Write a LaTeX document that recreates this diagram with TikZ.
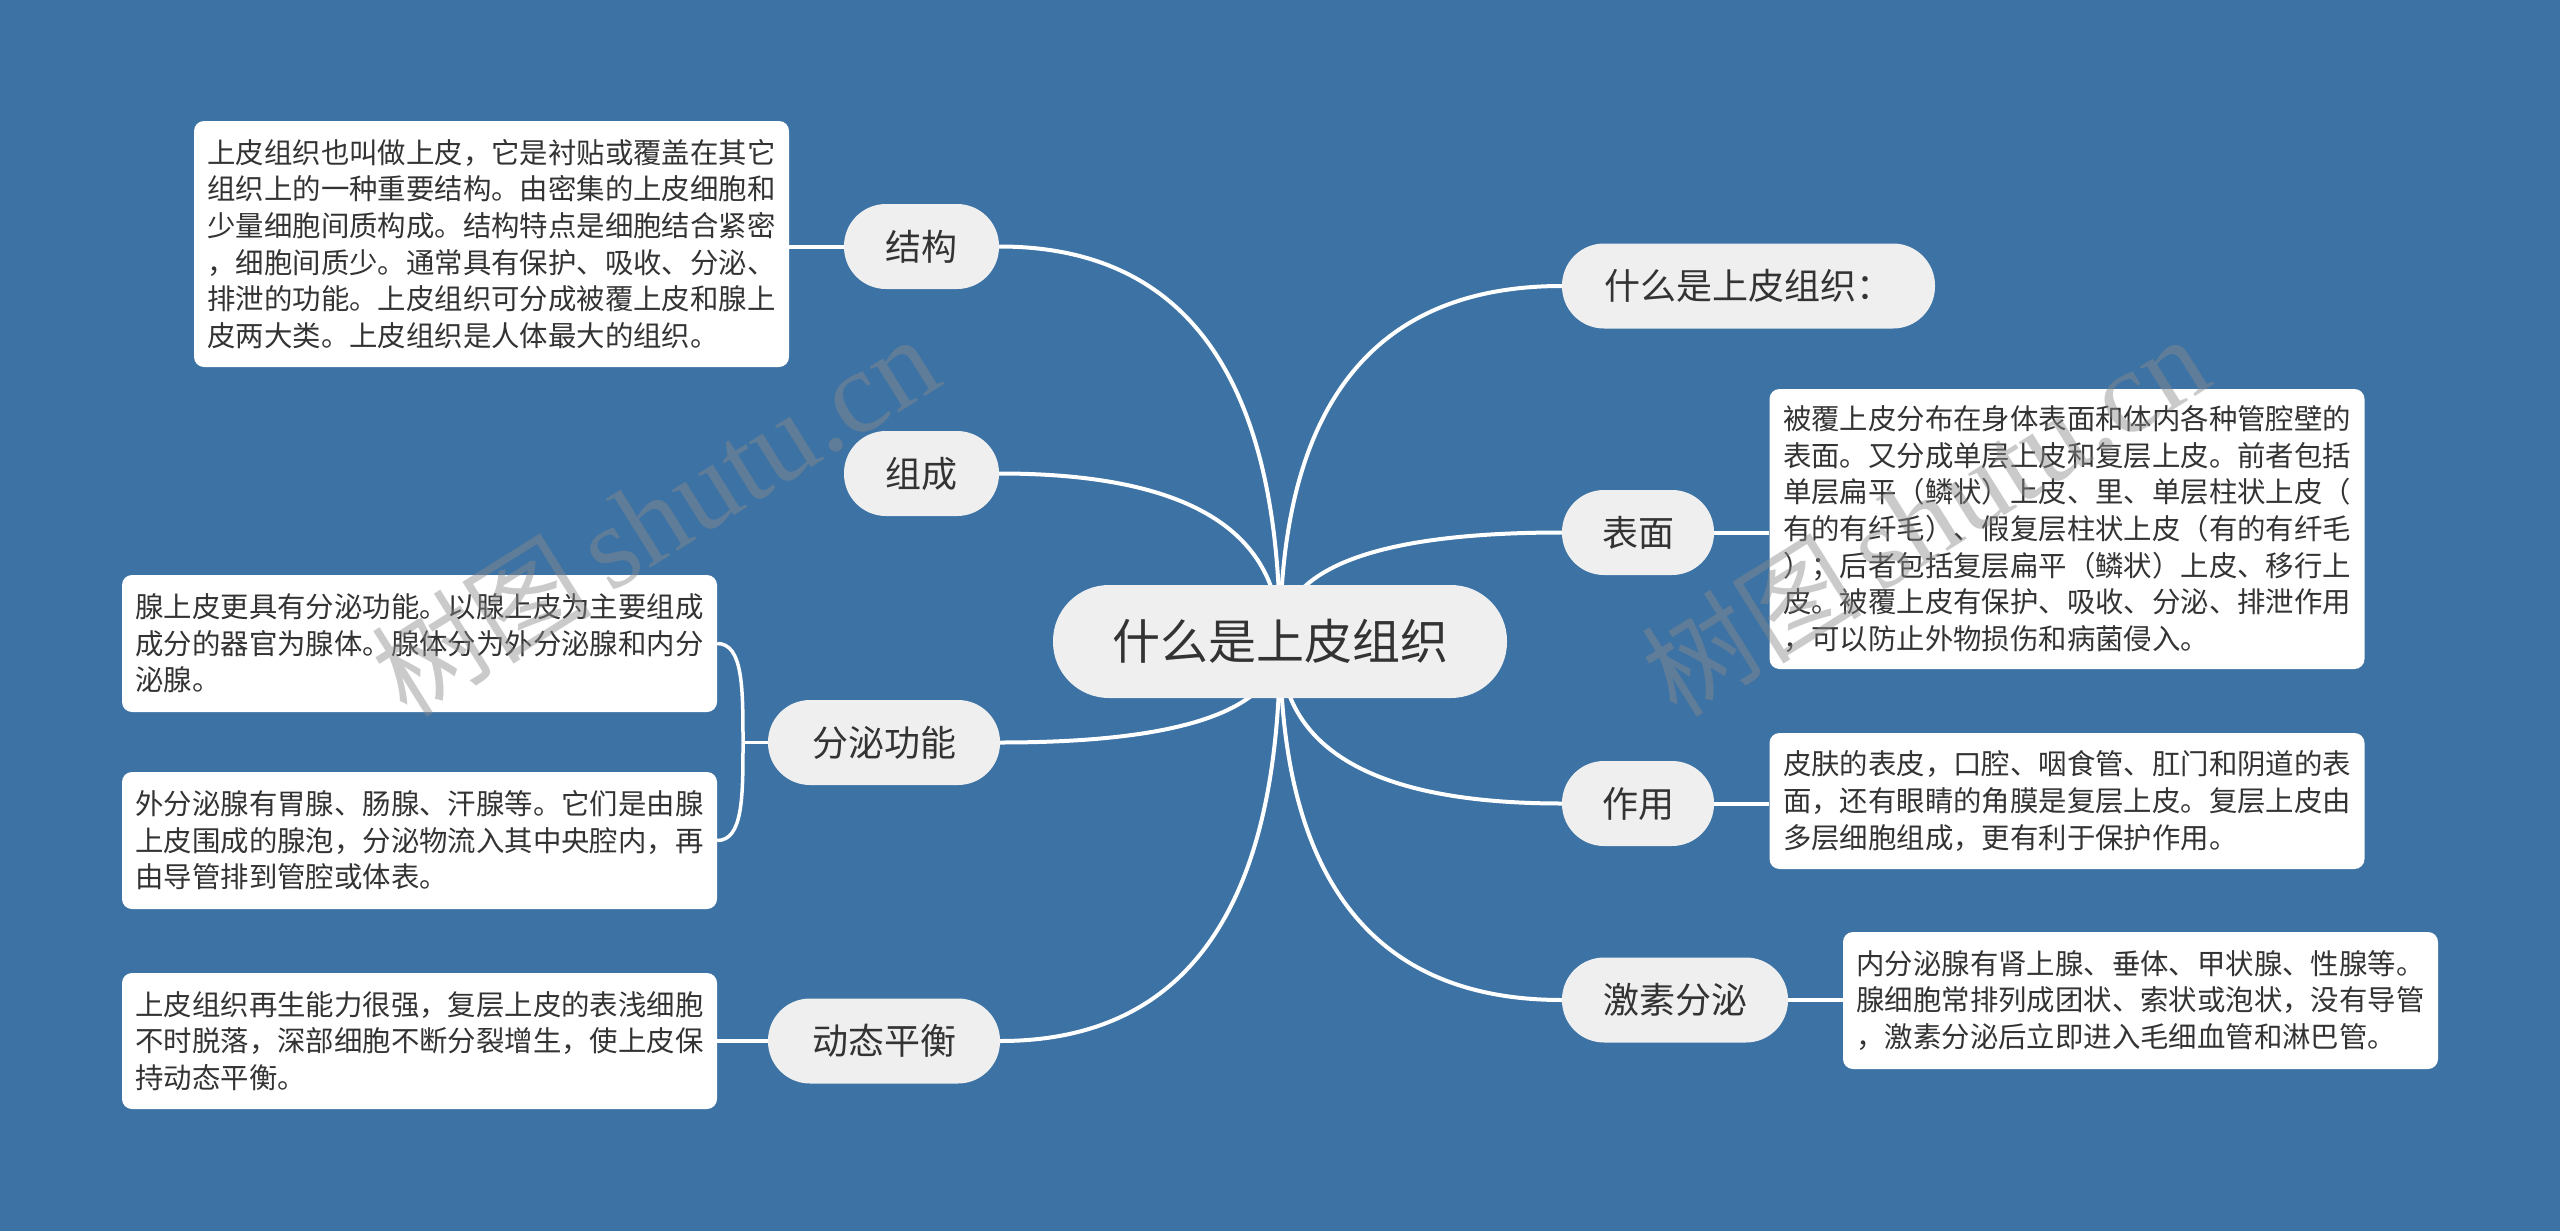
\documentclass[tikz,border=0pt]{standalone}
\usepackage{fontspec}
\newfontfamily\cjk{Noto Sans CJK SC}
\newfontfamily\wmfont{Liberation Serif}
\usetikzlibrary{calc}
\definecolor{bgblue}{HTML}{3C72A4}
\definecolor{nodefill}{HTML}{EFEFEF}
\definecolor{txt}{HTML}{333333}
\definecolor{wmgray}{HTML}{8A8A8A}
\pgfdeclarelayer{bglayer}
\pgfdeclarelayer{fglayer}
\pgfsetlayers{bglayer,main,fglayer}
\tikzset{
  pill/.style={rectangle, fill=nodefill, rounded corners=42pt, minimum height=85pt,
    inner sep=0pt, font=\cjk\fontsize{36}{43}\selectfont, text=txt},
  rootnode/.style={pill, rounded corners=56pt, minimum height=113pt,
    font=\cjk\fontsize{48}{58}\selectfont},
  infobox/.style={rectangle, fill=white, rounded corners=10pt, text width=568pt,
    inner xsep=13.5pt, inner ysep=0pt, align=left,
    font=\cjk\fontsize{28.4}{36.6}\selectfont, text=txt},
  conn/.style={draw=white, line width=4pt},
  thinconn/.style={draw=white, line width=3.5pt},
  watermark/.style={rotate=32, text=wmgray, text opacity=0.45, inner sep=0pt}
}
\begin{document}
\begin{tikzpicture}[x=1pt, y=-1pt]
\useasboundingbox (0,0) rectangle (2560,1231);
\begin{pgfonlayer}{bglayer}
\fill[bgblue] (0,0) rectangle (2560,1231);
\end{pgfonlayer}

% root
\node[rootnode, minimum width=454pt] (root) at (1280,641.5) {什么是上皮组织};

% left branches
\node[pill, minimum width=155pt] (jiegou) at (921.5,246.5) {结构};
\node[pill, minimum width=155pt] (zucheng) at (921.5,473.5) {组成};
\node[pill, minimum width=232pt] (fenmi) at (884,742.5) {分泌功能};
\node[pill, minimum width=232pt] (dongtai) at (884,1041) {动态平衡};

% right branches
\node[pill, minimum width=373pt] (what) at (1748.5,286) {什么是上皮组织：};
\node[pill, minimum width=152pt] (biaomian) at (1638,532.5) {表面};
\node[pill, minimum width=152pt] (zuoyong) at (1638,803.5) {作用};
\node[pill, minimum width=226pt] (jisu) at (1675,1000) {激素分泌};

% info boxes
\node[infobox, minimum height=246pt] (bjiegou) at (491.5,244) {%
上皮组织也叫做上皮，它是衬贴或覆盖在其它\\
组织上的一种重要结构。由密集的上皮细胞和\\
少量细胞间质构成。结构特点是细胞结合紧密\\
，细胞间质少。通常具有保护、吸收、分泌、\\
排泄的功能。上皮组织可分成被覆上皮和腺上\\
皮两大类。上皮组织是人体最大的组织。};

\node[infobox, minimum height=137pt] (bfen1) at (419.5,643.5) {%
腺上皮更具有分泌功能。以腺上皮为主要组成\\
成分的器官为腺体。腺体分为外分泌腺和内分\\
泌腺。};

\node[infobox, minimum height=137pt] (bfen2) at (419.5,840.5) {%
外分泌腺有胃腺、肠腺、汗腺等。它们是由腺\\
上皮围成的腺泡，分泌物流入其中央腔内，再\\
由导管排到管腔或体表。};

\node[infobox, minimum height=136pt] (bdong) at (419.5,1041) {%
上皮组织再生能力很强，复层上皮的表浅细胞\\
不时脱落，深部细胞不断分裂增生，使上皮保\\
持动态平衡。};

\node[infobox, minimum height=280pt] (bbiao) at (2067,529) {%
被覆上皮分布在身体表面和体内各种管腔壁的\\
表面。又分成单层上皮和复层上皮。前者包括\\
单层扁平（鳞状）上皮、里、单层柱状上皮（\\
有的有纤毛）、假复层柱状上皮（有的有纤毛\\
）；后者包括复层扁平（鳞状）上皮、移行上\\
皮。被覆上皮有保护、吸收、分泌、排泄作用\\
，可以防止外物损伤和病菌侵入。};

\node[infobox, minimum height=136pt] (bzuo) at (2067,801) {%
皮肤的表皮，口腔、咽食管、肛门和阴道的表\\
面，还有眼睛的角膜是复层上皮。复层上皮由\\
多层细胞组成，更有利于保护作用。};

\node[infobox, minimum height=137pt] (bjisu) at (2140.5,1000.5) {%
内分泌腺有肾上腺、垂体、甲状腺、性腺等。\\
腺细胞常排列成团状、索状或泡状，没有导管\\
，激素分泌后立即进入毛细血管和淋巴管。};

\coordinate (hub) at (743,742.5);

\begin{pgfonlayer}{bglayer}
% root -> branches (quadratic curves as cubic)
\foreach \n in {jiegou,zucheng,fenmi,dongtai}{
  \draw[conn] (root.center) .. controls ($(root.center)!0.6667!(root.center |- \n.east)$)
    and ($(\n.east)!0.6667!(root.center |- \n.east)$) .. (\n.east);
}
\foreach \n in {what,biaomian,zuoyong,jisu}{
  \draw[conn] (root.center) .. controls ($(root.center)!0.6667!(root.center |- \n.west)$)
    and ($(\n.west)!0.6667!(root.center |- \n.west)$) .. (\n.west);
}
% branch -> info box
\draw[conn] (jiegou.west) -- (jiegou.west -| bjiegou.east);
\draw[conn] (dongtai.west) -- (dongtai.west -| bdong.east);
\draw[conn] (biaomian.east) -- (biaomian.east -| bbiao.west);
\draw[conn] (zuoyong.east) -- (zuoyong.east -| bzuo.west);
\draw[conn] (jisu.east) -- (jisu.east -| bjisu.west);
% bracket for 分泌功能
\draw[thinconn] (fenmi.west) -- (hub);
\draw[thinconn] (hub) .. controls ($(hub)!0.55!(hub |- bfen1.east)$) and (hub |- bfen1.east) .. (bfen1.east);
\draw[thinconn] (hub) .. controls ($(hub)!0.55!(hub |- bfen2.east)$) and (hub |- bfen2.east) .. (bfen2.east);
\end{pgfonlayer}

% watermarks
\begin{pgfonlayer}{fglayer}
\node[watermark] (wm1) at (655,516) {\cjk\fontsize{110}{120}\selectfont 树图\,{\wmfont\fontsize{118}{120}\selectfont shutu.cn}};
\node[watermark] (wm2) at (1925,516) {\cjk\fontsize{110}{120}\selectfont 树图\,{\wmfont\fontsize{118}{120}\selectfont shutu.cn}};
\end{pgfonlayer}
\end{tikzpicture}
\end{document}
